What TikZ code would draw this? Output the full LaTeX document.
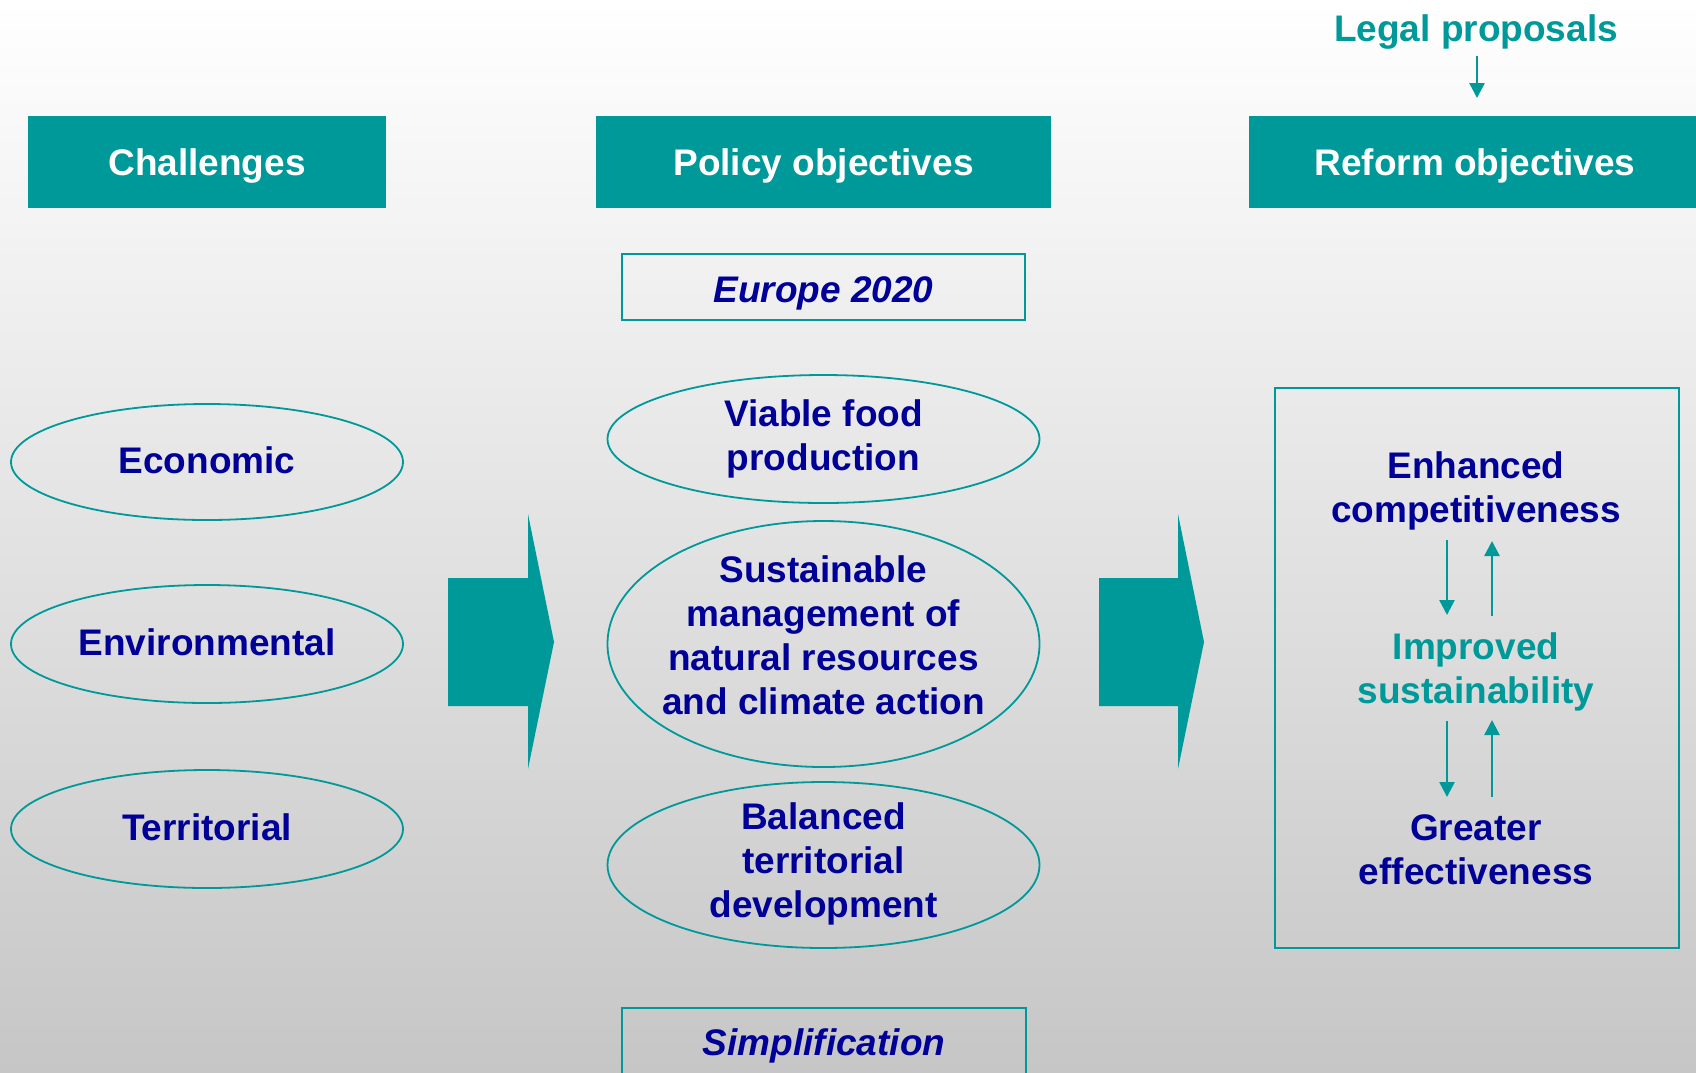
\documentclass[tikz,border=0pt]{standalone}
\usepackage{fontspec}
\setmainfont{Liberation Sans}
\usetikzlibrary{shapes.geometric,arrows.meta}
\definecolor{teal1}{HTML}{009999}
\definecolor{navy1}{HTML}{000099}
\definecolor{bgbot}{HTML}{C6C6C6}
\tikzset{
  every node/.style={font=\fontsize{37}{44}\selectfont\bfseries},
  header/.style={fill=teal1, text=white, minimum height=92pt, inner sep=0pt, text height=27.8pt, text depth=0pt},
  oval/.style={ellipse, draw=teal1, line width=1.8pt, inner sep=0pt},
  framebox/.style={draw=teal1, line width=2pt, text=navy1, inner sep=0pt, text depth=0pt, font=\fontsize{37}{44}\selectfont\bfseries\itshape},
  txt/.style={text=navy1, align=center, inner sep=0pt},
  tarrow/.style={draw=teal1, line width=2.5pt, -{Triangle[width=15pt,length=15pt]}},
  bigarrow/.style={fill=teal1, draw=none}
}
\begin{document}
\begin{tikzpicture}[x=1pt,y=-1pt]
\useasboundingbox (0,0) rectangle (1696,1072);
\shade[top color=white, bottom color=bgbot] (0,0) rectangle (1696,1072);

% headers
\node[header, minimum width=358pt] (chal) at (207,162) {Challenges};
\node[header, minimum width=455pt] (pol) at (823.5,162) {Policy objectives};
\node[header, minimum width=452pt] (ref) at (1475,162) {Reform objectives};
\node[text=teal1, inner sep=0pt] (legal) at (1476,32) {Legal proposals};
\coordinate (lpA) at (1477,56);
\coordinate (lpB) at (1477,98);
\draw[tarrow] (lpA) -- (lpB);

% left ellipses
\node[oval, minimum width=392pt, minimum height=116pt] (eco) at (207,462) {};
\node[oval, minimum width=392pt, minimum height=118pt] (env) at (207,644) {};
\node[oval, minimum width=392pt, minimum height=118pt] (ter) at (207,829) {};
\node[txt] (ecoT) at ([yshift=2pt]eco.center) {Economic};
\node[txt] (envT) at ([yshift=2pt]env.center) {Environmental};
\node[txt] (terT) at ([yshift=2pt]ter.center) {Territorial};

% middle
\node[framebox, minimum width=403pt, minimum height=66pt, text height=30pt] (eu) at (823.5,287) {Europe 2020};
\node[oval, minimum width=432pt, minimum height=128pt] (viab) at (823.5,439) {};
\node[oval, minimum width=432pt, minimum height=246pt] (sust) at (823.5,644) {};
\node[oval, minimum width=432pt, minimum height=166pt] (bal) at (823.5,865) {};
\node[txt] (viabT) at ([yshift=0.5pt]viab.center) {Viable food\\production};
\node[txt] (sustT) at ([yshift=9pt]sust.center) {Sustainable\\management of\\natural resources\\and climate action};
\node[txt] (balT) at ([yshift=1pt]bal.center) {Balanced\\territorial\\development};
\node[framebox, minimum width=404pt, minimum height=70pt, text height=25pt] (simp) at (824,1043) {Simplification};

% big arrows
\path[bigarrow] (448,578) -- (528,578) -- (528,514) -- (554,642) -- (528,769) -- (528,706) -- (448,706) -- cycle;
\path[bigarrow] (1099,578) -- (1178,578) -- (1178,514) -- (1204,642) -- (1178,769) -- (1178,706) -- (1099,706) -- cycle;

% right box
\node[draw=teal1, line width=2pt, minimum width=404pt, minimum height=560pt, inner sep=0pt] (rbox) at (1477,668) {};
\node[txt] (enh) at (1476,491) {Enhanced\\competitiveness};
\node[txt, text=teal1] (imp) at (1476,672) {Improved\\sustainability};
\node[txt] (gre) at (1476,850) {Greater\\effectiveness};
\coordinate (d1a) at (1447,540); \coordinate (d1b) at (1447,615);
\coordinate (u1a) at (1492,616); \coordinate (u1b) at (1492,541);
\coordinate (d2a) at (1447,721); \coordinate (d2b) at (1447,797);
\coordinate (u2a) at (1492,797); \coordinate (u2b) at (1492,720);
\draw[tarrow] (d1a) -- (d1b);
\draw[tarrow] (u1a) -- (u1b);
\draw[tarrow] (d2a) -- (d2b);
\draw[tarrow] (u2a) -- (u2b);
\end{tikzpicture}
\end{document}
